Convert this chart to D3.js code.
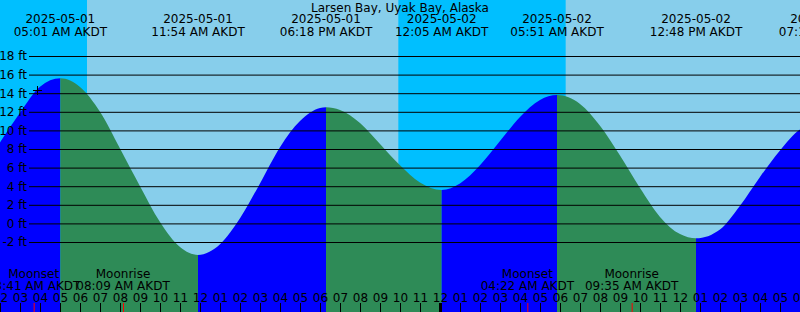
<!DOCTYPE html>
<meta charset="utf-8">

<!-- Load d3.js -->
<script src="https://d3js.org/d3.v7.min.js"></script>

<style>
  body { margin: 0; }
  svg { display: block; font-family: "DejaVu Sans", sans-serif; font-size: 12px; }
</style>

<!-- Create a div where the graph will take place -->
<div id="tide_chart"></div>

<script>
// station
var title = "Larsen Bay, Uyak Bay, Alaska";
var startTime = "2025-05-01 02:00",
    endTime = "2025-05-02 18:00";

// high / low tides
var extremeTimes = ["2025-05-01 05:01", "2025-05-01 11:54", "2025-05-01 18:18", "2025-05-02 00:05",
                    "2025-05-02 05:51", "2025-05-02 12:48", "2025-05-02 19:15"];
var extremeHeights = [15.6, -3.4, 12.5, 3.6, 13.8, -1.6, 11.0];
var extremeKinds = ["high", "low", "high", "low", "high", "low", "high"];

// tide level, every hour (ft)
var sampleTimes = ["2025-05-01 02:00", "2025-05-01 03:00", "2025-05-01 04:00", "2025-05-01 06:00",
                   "2025-05-01 07:00", "2025-05-01 08:00", "2025-05-01 09:00", "2025-05-01 10:00",
                   "2025-05-01 11:00", "2025-05-01 13:00", "2025-05-01 14:00", "2025-05-01 15:00",
                   "2025-05-01 16:00", "2025-05-01 17:00", "2025-05-01 18:00", "2025-05-01 19:00",
                   "2025-05-01 20:00", "2025-05-01 21:00", "2025-05-01 22:00", "2025-05-01 23:00",
                   "2025-05-02 01:00", "2025-05-02 02:00", "2025-05-02 03:00", "2025-05-02 04:00",
                   "2025-05-02 05:00", "2025-05-02 07:00", "2025-05-02 08:00", "2025-05-02 09:00",
                   "2025-05-02 10:00", "2025-05-02 11:00", "2025-05-02 12:00", "2025-05-02 14:00",
                   "2025-05-02 15:00", "2025-05-02 16:00", "2025-05-02 17:00", "2025-05-02 18:00"];
var sampleHeights = [8.7, 11.9, 14.7, 14.66,
                     12.0, 8.05, 4.0, 0.15,
                     -2.55, -2.25, 0.55, 4.3,
                     8.2, 11.0, 12.42, 12.2,
                     10.8, 8.55, 6.25, 4.4,
                     4.3, 6.25, 8.85, 11.45,
                     13.27, 12.85, 10.5, 7.3,
                     3.8, 0.7, -1.15, -0.65,
                     1.9, 5.0, 7.85, 10.1];

// sun and moon
var sunTimes = ["2025-05-01 06:21", "2025-05-01 21:55", "2025-05-02 06:17"];
var sunKinds = ["rise", "set", "rise"];
var moonTimes = ["2025-05-01 03:41", "2025-05-01 08:09", "2025-05-02 04:22", "2025-05-02 09:35"];
var moonKinds = ["Moonset", "Moonrise", "Moonset", "Moonrise"];

// y axis ticks
var heightTicks = [-2, 0, 2, 4, 6, 8, 10, 12, 14, 16, 18];

// little cross on the curve
var markTime = "2025-05-01 03:51",
    markHeight = 14.3;

var width = 800,
    height = 312;

var parse = d3.timeParse("%Y-%m-%d %H:%M");
var fmtDate = d3.timeFormat("%Y-%m-%d"),
    fmtTime = function(d) { return d3.timeFormat("%I:%M %p")(d) + " AKDT"; };

var svg = d3.select("#tide_chart")
  .append("svg")
    .attr("width", width)
    .attr("height", height);

var x = d3.scaleTime()
    .domain([parse(startTime), parse(endTime)])
    .range([0, width]);

var y = d3.scaleLinear()
    .domain([-2, 18])
    .range([242, 56]);

// sky: day then night bands
svg.append("rect")
    .attr("width", width).attr("height", height)
    .attr("fill", "#87CEEB");

var nights = [], nightStart = x.domain()[0];
sunTimes.forEach(function(t, i) {
  if (sunKinds[i] == "rise") { nights.push([nightStart, parse(t)]); nightStart = null; }
  else nightStart = parse(t);
});
if (nightStart) nights.push([nightStart, x.domain()[1]]);

svg.selectAll(".night")
  .data(nights)
  .enter()
  .append("rect")
    .attr("class", "night")
    .attr("x", function(d) { return x(d[0]); })
    .attr("width", function(d) { return x(d[1]) - x(d[0]); })
    .attr("y", 0)
    .attr("height", height)
    .attr("fill", "#00BFFF");

// tide curve
var points = [];
sampleTimes.forEach(function(t, i) { points.push({t: parse(t), h: sampleHeights[i]}); });
extremeTimes.forEach(function(t, i) { points.push({t: parse(t), h: extremeHeights[i]}); });
points.sort(function(a, b) { return a.t - b.t; });

var area = d3.area()
    .curve(d3.curveMonotoneX)
    .x(function(d) { return x(d.t); })
    .y0(height)
    .y1(function(d) { return y(d.h); });

svg.append("clipPath")
    .attr("id", "water")
  .append("path")
    .attr("d", area(points));

// rising = blue, falling = green
var segs = extremeTimes.map(function(t, i) {
  return {from: i == 0 ? x.domain()[0] : parse(extremeTimes[i - 1]), to: parse(t), kind: extremeKinds[i]};
});

svg.append("g")
    .attr("clip-path", "url(#water)")
  .selectAll("rect")
  .data(segs)
  .enter()
  .append("rect")
    .attr("x", function(d) { return x(d.from); })
    .attr("width", function(d) { return x(d.to) - x(d.from); })
    .attr("y", 0)
    .attr("height", height)
    .attr("fill", function(d) { return d.kind == "high" ? "#0000FF" : "#2E8B57"; });

// grid lines + ft labels
var yAxis = svg.append("g")
    .attr("transform", "translate(" + width + ",0)")
    .call(d3.axisLeft(y)
      .tickValues(heightTicks)
      .tickSize(width - 29)
      .tickPadding(2)
      .tickFormat(function(d) { return d + " ft"; }));
yAxis.select(".domain").remove();
yAxis.selectAll("line").attr("stroke", "#000");
yAxis.selectAll("text")
    .attr("fill", "#000")
    .style("font-family", "DejaVu Sans")
    .style("font-size", "12px");

// marker
var mx = Math.round(x(parse(markTime))) + 0.5,
    my = Math.round(y(markHeight)) + 0.5;
svg.append("path")
    .attr("d", "M" + (mx - 4.5) + "," + my + "H" + (mx + 4.5) + "M" + mx + "," + (my - 4.5) + "V" + (my + 4.5))
    .attr("stroke", "#000");

// top labels
svg.append("text")
    .attr("x", width / 2)
    .attr("y", 12)
    .attr("text-anchor", "middle")
    .text(title);

var tops = svg.append("g")
  .selectAll("g")
  .data(extremeTimes.map(parse))
  .enter()
  .append("g")
    .attr("transform", function(d) { return "translate(" + x(d) + ",0)"; })
    .attr("text-anchor", "middle");
tops.append("text").attr("y", 23).text(fmtDate);
tops.append("text").attr("y", 36).text(fmtTime);

// moon labels
var moons = svg.append("g")
  .selectAll("g")
  .data(moonTimes.map(function(t, i) { return {t: parse(t), name: moonKinds[i]}; }))
  .enter()
  .append("g")
    .attr("transform", function(d) { return "translate(" + x(d.t) + ",0)"; })
    .attr("text-anchor", "middle");
moons.append("text").attr("y", 278).text(function(d) { return d.name; });
moons.append("text").attr("y", 290).text(function(d) { return fmtTime(d.t); });

// hour axis along the bottom
var xAxis = svg.append("g")
    .attr("transform", "translate(0," + height + ")")
    .call(d3.axisTop(x)
      .ticks(d3.timeHour.every(1))
      .tickSize(9)
      .tickPadding(1)
      .tickFormat(d3.timeFormat("%I")));
xAxis.select(".domain").remove();
xAxis.selectAll("line").attr("stroke", "#000");
xAxis.selectAll("text")
    .attr("fill", "#000")
    .style("font-family", "DejaVu Sans")
    .style("font-size", "12px");
xAxis.selectAll(".tick")
  .filter(function(d) { return d.getHours() == 0; })
  .select("line")
    .attr("stroke-width", 3);

// moon event ticks
svg.append("g")
  .selectAll("line")
  .data(moonTimes.map(parse))
  .enter()
  .append("line")
    .attr("x1", function(d) { return x(d) + 0.5; })
    .attr("x2", function(d) { return x(d) + 0.5; })
    .attr("y1", height - 9)
    .attr("y2", height)
    .attr("stroke", "#FF0000");
</script>
